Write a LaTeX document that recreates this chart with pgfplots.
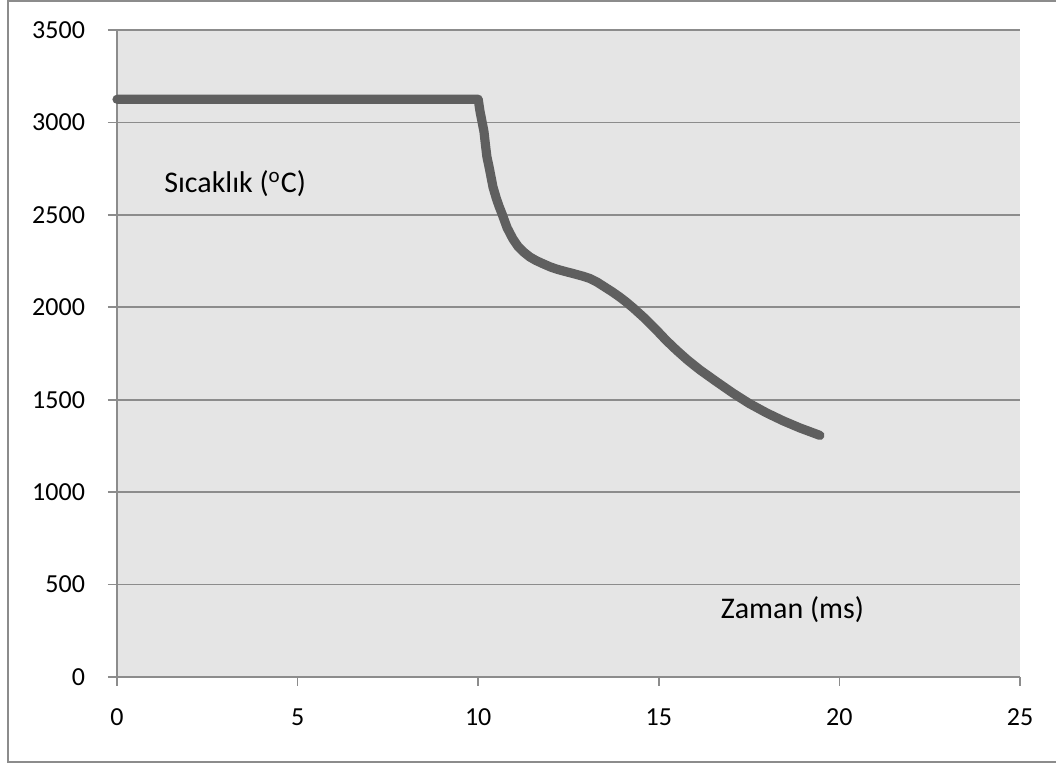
\documentclass[border=0pt]{standalone}
\usepackage{pgfplots}
\pgfplotsset{compat=1.18}
\usepackage{fontspec}
\setmainfont{Carlito}
\definecolor{bgc}{HTML}{E5E5E5}
\definecolor{gridc}{HTML}{8C8C8C}
\definecolor{linec}{HTML}{5F5F5F}
\begin{document}
\begin{tikzpicture}
\clip (0,0) rectangle (528pt,382pt);
\draw[gridc, line width=1pt] (4pt,1pt) rectangle (540pt,381.5pt);
\begin{axis}[
  at={(58.5pt,43.5pt)}, anchor=south west,
  scale only axis, width=451.5pt, height=323.5pt,
  xmin=0, xmax=25, ymin=0, ymax=3500,
  xtick={0,5,...,25}, ytick={0,500,...,3500},
  axis line style={gridc, line width=1pt},
  axis x line*=bottom, axis y line*=left,
  axis background/.style={fill=bgc},
  ymajorgrids, grid style={gridc, line width=0.8pt},
  tick style={gridc, line width=0.8pt},
  tick align=outside, major tick length=4.5pt,
  ticklabel style={font=\fontsize{13}{15}\selectfont, text=black},
  /pgf/number format/assume math mode=true,
  /pgf/number format/1000 sep={},
  xticklabel style={yshift=-8pt},
  yticklabel style={xshift=-8pt},
  clip=false,
]
\addplot[linec, line width=4.6pt, line join=round, line cap=round] coordinates {
(0,3125) (10,3125) (10.05,3060) (10.1,3010) (10.16,2950) (10.2,2880) (10.24,2815)
(10.3,2760) (10.36,2700) (10.41,2650) (10.5,2590) (10.58,2545) (10.66,2505)
(10.8,2430) (10.96,2370) (11.1,2330) (11.25,2300) (11.43,2272) (11.6,2253)
(11.8,2235) (12.0,2218) (12.18,2206) (12.4,2194) (12.6,2184) (12.9,2168)
(13.1,2155) (13.3,2135) (13.5,2110) (13.7,2085) (13.9,2058) (14.1,2028)
(14.3,1995) (14.6,1942) (14.9,1884) (15.2,1822) (15.5,1766) (15.8,1714)
(16.14,1661) (16.6,1597) (17.05,1536) (17.5,1480) (17.99,1428) (18.45,1385)
(18.91,1347) (19.2,1326) (19.46,1307)
};
\node[font=\fontsize{15}{18}\selectfont] at (axis cs:3.27,2667) {Sıcaklık (\textsuperscript{o}C)};
\node[font=\fontsize{15}{18}\selectfont] at (axis cs:18.7,362) {Zaman (ms)};
\end{axis}
\end{tikzpicture}
\end{document}
